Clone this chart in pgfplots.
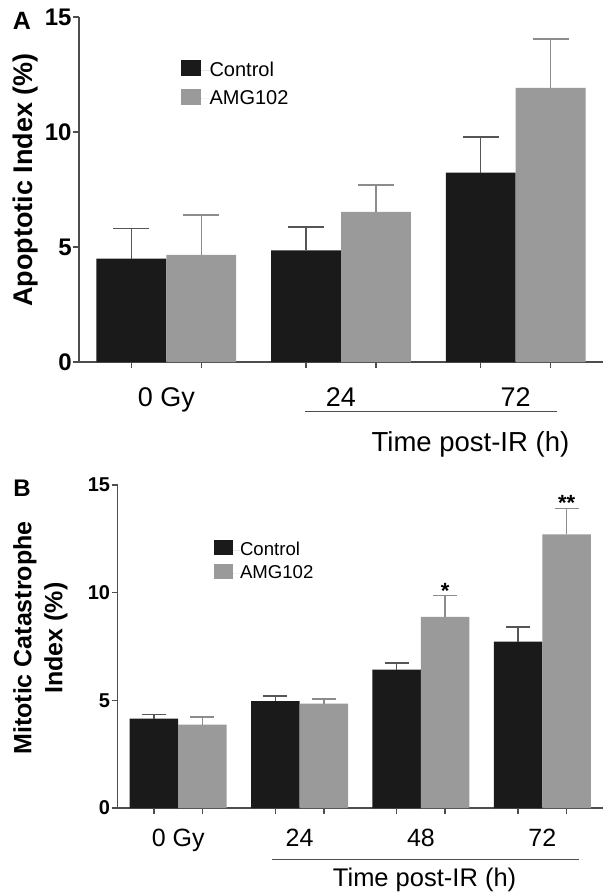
\documentclass[border=0pt]{standalone}
\usepackage{pgfplots}
\pgfplotsset{compat=1.18}
\usepackage{fontspec}
\setmainfont{Liberation Sans}
\definecolor{barblack}{HTML}{1A1A1A}
\definecolor{bargray}{HTML}{9A9A9A}
\definecolor{axgray}{HTML}{4D4D4D}
\definecolor{errdark}{HTML}{555555}
\definecolor{errgray}{HTML}{8C8C8C}

\pgfplotsset{
  panel/.style={
    scale only axis, clip=false,
    ymin=0, ymax=15, ytick={0,5,10,15},
    xmin=-0.5,
    axis x line*=bottom, axis y line*=left,
    axis line style={-, draw=axgray, line width=0.75pt},
    tick align=outside, major tick length=3pt,
    tick style={draw=axgray, line width=0.75pt},
    xticklabels={,,,,,,,,},
    /pgf/number format/assume math mode=true,
    yticklabel style={inner sep=0.5pt, text=black},
    ybar, bar width=0.4,
    legend cell align=left,
  },
  ctrl/.style={fill=barblack, draw=none, bar shift=-0.2,
    error bars/.cd, y dir=plus, y explicit,
    error bar style={draw=errdark, line width=0.75pt},
    error mark options={rotate=90, draw=errdark, line width=0.75pt, mark size=#1}},
  amg/.style={fill=bargray, draw=none, bar shift=0.2,
    error bars/.cd, y dir=plus, y explicit,
    error bar style={draw=errgray, line width=0.75pt},
    error mark options={rotate=90, draw=errgray, line width=0.75pt, mark size=#1}},
}

\begin{document}
\begin{tikzpicture}
\path[use as bounding box] (0,0) rectangle (301.5pt,-447pt);

% ---- panel A ----
\begin{axis}[panel,
  at={(39.5pt,-181pt)}, anchor=south west,
  width=262pt, height=172.4pt, xmax=2.5,
  xtick={-0.2,0.2,0.8,1.2,1.8,2.2},
  yticklabel style={font=\bfseries\fontsize{12}{12}\selectfont},
  legend image code/.code={\path (0pt,0pt) -- (14.5pt,0pt);
    \fill[#1, draw=none] (0pt,-2.8pt) rectangle (10pt,5.2pt);},
  legend style={at={(0.193,0.876)}, anchor=north west, draw=none, fill=none,
    inner sep=0pt, row sep=4.5pt, font=\fontsize{10}{12}\selectfont,
    nodes={inner sep=0pt}},
]
\addplot[ctrl=9pt] coordinates {(0,4.50) +- (0,1.30) (1,4.86) +- (0,1.02) (2,8.24) +- (0,1.55)};
\addplot[amg=9pt] coordinates {(0,4.66) +- (0,1.73) (1,6.53) +- (0,1.16) (2,11.93) +- (0,2.13)};
\legend{Control,AMG102}
\begin{scope}[font=\fontsize{13.5}{16}\selectfont]
\node[anchor=base] at ([yshift=-22pt]axis cs:0,0) {0 Gy};
\node[anchor=base] at ([yshift=-22pt]axis cs:1,0) {24};
\node[anchor=base] at ([yshift=-22pt]axis cs:2,0) {72};
\draw[axgray, line width=0.75pt] ([yshift=-24.7pt]axis cs:0.793,0) -- ([yshift=-24.7pt]axis cs:2.239,0);
\node[anchor=base, font=\fontsize{13.75}{16}\selectfont] at ([yshift=-44.5pt]axis cs:1.741,0) {Time post-IR (h)};
\end{scope}
\end{axis}

% ---- panel B ----
\begin{axis}[panel,
  at={(58.75pt,-404pt)}, anchor=south west,
  width=242.75pt, height=161.5pt, xmax=3.5,
  xtick={-0.2,0.2,0.8,1.2,1.8,2.2,2.8,3.2},
  yticklabel style={font=\bfseries\fontsize{10}{10}\selectfont},
  legend image code/.code={\path (0pt,0pt) -- (13pt,0pt);
    \fill[#1, draw=none] (0pt,-2.6pt) rectangle (9.5pt,4.9pt);},
  legend style={at={(0.198,0.83)}, anchor=north west, draw=none, fill=none,
    inner sep=0pt, row sep=2.7pt, font=\fontsize{9.3}{11}\selectfont,
    nodes={inner sep=0pt}},
]
\addplot[ctrl=6pt] coordinates {(0,4.15) +- (0,0.19) (1,4.96) +- (0,0.25) (2,6.43) +- (0,0.31) (3,7.73) +- (0,0.68)};
\addplot[amg=6pt] coordinates {(0,3.87) +- (0,0.36) (1,4.85) +- (0,0.22) (2,8.88) +- (0,0.99) (3,12.71) +- (0,1.21)};
\legend{Control,AMG102}
\node[anchor=base, font=\bfseries\fontsize{11}{11}\selectfont] at ([yshift=-1.3pt]axis cs:2.2,9.87) {*};
\node[anchor=base, font=\bfseries\fontsize{11}{11}\selectfont] at ([yshift=-1.3pt]axis cs:3.2,13.92) {**};
\begin{scope}[font=\fontsize{12.5}{15}\selectfont]
\node[anchor=base] at ([yshift=-19.3pt]axis cs:0,0) {0 Gy};
\node[anchor=base] at ([yshift=-19.3pt]axis cs:1,0) {24};
\node[anchor=base] at ([yshift=-19.3pt]axis cs:2,0) {48};
\node[anchor=base] at ([yshift=-19.3pt]axis cs:3,0) {72};
\draw[axgray, line width=0.75pt] ([yshift=-25.7pt]axis cs:0.77,0) -- ([yshift=-25.7pt]axis cs:3.30,0);
\node[anchor=base, font=\fontsize{12.75}{15}\selectfont] at ([yshift=-39.3pt]axis cs:2.03,0) {Time post-IR (h)};
\end{scope}
\end{axis}

% panel letters and y labels
\node[font=\bfseries\fontsize{12.5}{12.5}\selectfont] at (11pt,-10.5pt) {A};
\node[font=\bfseries\fontsize{12}{12}\selectfont] at (11pt,-244pt) {B};
\node[rotate=90, font=\bfseries\fontsize{13.5}{16}\selectfont] at (13pt,-90pt) {Apoptotic Index (\%)};
\node[rotate=90, align=center, font=\bfseries\fontsize{12.5}{15.5}\selectfont] at (20.25pt,-319pt) {Mitotic Catastrophe\\Index (\%)};
\end{tikzpicture}
\end{document}
